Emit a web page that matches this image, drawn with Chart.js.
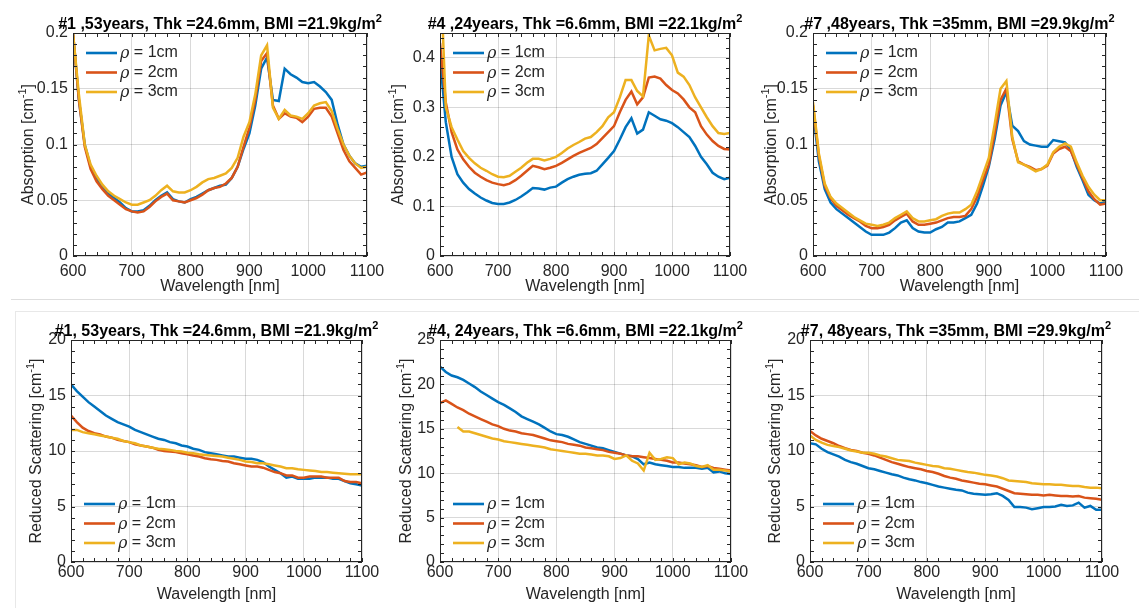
<!DOCTYPE html>
<html>
<head>
<meta charset="utf-8">
<script src="https://cdn.jsdelivr.net/npm/chart.js@4.4.0/dist/chart.umd.min.js"></script>
<style>
  body { margin: 0; background: #fff; width: 1139px; height: 608px; overflow: hidden; position: relative; }
  canvas { position: absolute; }
  .sep { position: absolute; background: #dedede; }
</style>
</head>
<body>
<div class="sep" style="left:11px; top:299px; width:1128px; height:1px"></div>
<div class="sep" style="left:15px; top:311px; width:1124px; height:1px; background:#e8e8e8"></div>
<div class="sep" style="left:15px; top:311px; width:1px; height:297px; background:#e8e8e8"></div>
<script>
const FONT = "'Liberation Sans', Arial, Helvetica, sans-serif";

const wavelengths = [600, 610, 620, 630, 640, 650, 660, 670, 680, 690,
  700, 710, 720, 730, 740, 750, 760, 770, 780, 790,
  800, 810, 820, 830, 840, 850, 860, 870, 880, 890,
  900, 910, 920, 930, 940, 950, 960, 970, 980, 990,
  1000, 1010, 1020, 1030, 1040, 1050, 1060, 1070, 1080, 1090,
  1100];

const xTicks = [600, 700, 800, 900, 1000, 1100];
const absTicks = [0, 0.05, 0.1, 0.15, 0.2];
const absTicksWide = [0, 0.1, 0.2, 0.3, 0.4];
const scatTicks = [0, 5, 10, 15, 20];
const scatTicksWide = [0, 5, 10, 15, 20, 25];

const rhoLabels = ["1cm", "2cm", "3cm"];
const lineColors = ["#0072BD", "#D95319", "#EDB120"];

// absorption, subject #1
const abs1_1cm = [0.2, 0.14, 0.1, 0.08, 0.07, 0.062, 0.056, 0.052, 0.048, 0.043,
  0.04, 0.04, 0.041, 0.045, 0.05, 0.054, 0.057, 0.051, 0.049, 0.048,
  0.051, 0.053, 0.056, 0.059, 0.061, 0.063, 0.064, 0.07, 0.08, 0.096,
  0.11, 0.135, 0.168, 0.178, 0.14, 0.139, 0.168, 0.163, 0.16, 0.156,
  0.155, 0.156, 0.152, 0.147, 0.14, 0.118, 0.1, 0.09, 0.083, 0.08,
  0.081];
const abs1_2cm = [0.2, 0.14, 0.098, 0.078, 0.067, 0.06, 0.054, 0.05, 0.046, 0.042,
  0.04, 0.039, 0.04, 0.044, 0.049, 0.053, 0.056, 0.05, 0.049, 0.048,
  0.05, 0.052, 0.055, 0.059, 0.061, 0.062, 0.065, 0.07, 0.08, 0.098,
  0.115, 0.14, 0.175, 0.182, 0.135, 0.123, 0.128, 0.125, 0.124, 0.12,
  0.125, 0.132, 0.133, 0.133, 0.125, 0.11, 0.095, 0.085, 0.079, 0.073,
  0.075];
const abs1_3cm = [0.2, 0.145, 0.1, 0.082, 0.072, 0.064, 0.058, 0.054, 0.051, 0.048,
  0.046, 0.046, 0.048, 0.05, 0.054, 0.059, 0.063, 0.058, 0.057, 0.057,
  0.059, 0.062, 0.066, 0.069, 0.07, 0.072, 0.074, 0.079, 0.088, 0.107,
  0.12, 0.145, 0.18, 0.189, 0.133, 0.123, 0.131, 0.126, 0.125, 0.123,
  0.128, 0.135, 0.137, 0.138, 0.13, 0.114, 0.1, 0.09, 0.083, 0.079,
  0.08];

// absorption, subject #4
const abs4_1cm = [0.4, 0.27, 0.2, 0.165, 0.148, 0.135, 0.126, 0.118, 0.112, 0.107,
  0.105, 0.105, 0.108, 0.113, 0.12, 0.128, 0.137, 0.136, 0.134, 0.138,
  0.14, 0.148, 0.155, 0.16, 0.164, 0.166, 0.167, 0.172, 0.185, 0.198,
  0.212, 0.235, 0.26, 0.278, 0.247, 0.255, 0.29, 0.283, 0.276, 0.273,
  0.268, 0.26, 0.25, 0.24, 0.222, 0.2, 0.185, 0.168, 0.16, 0.155,
  0.158];
const abs4_2cm = [0.43, 0.31, 0.25, 0.215, 0.195, 0.18, 0.168, 0.16, 0.153, 0.148,
  0.145, 0.143, 0.146, 0.153, 0.162, 0.172, 0.182, 0.179, 0.175, 0.178,
  0.182, 0.188, 0.195, 0.202, 0.208, 0.213, 0.218, 0.226, 0.238, 0.25,
  0.262, 0.29, 0.315, 0.332, 0.306, 0.32, 0.36, 0.362, 0.358, 0.345,
  0.335, 0.328, 0.316, 0.3, 0.29, 0.262, 0.245, 0.232, 0.222, 0.216,
  0.215];
const abs4_3cm = [0.6, 0.3, 0.26, 0.235, 0.212, 0.198, 0.187, 0.178, 0.172, 0.165,
  0.16, 0.159, 0.162, 0.17, 0.178, 0.188, 0.196, 0.196, 0.193, 0.196,
  0.2, 0.208, 0.217, 0.224, 0.23, 0.237, 0.24, 0.25, 0.262, 0.28,
  0.29, 0.32, 0.355, 0.355, 0.333, 0.322, 0.445, 0.415, 0.418, 0.42,
  0.405, 0.37, 0.362, 0.345, 0.32, 0.3, 0.28, 0.262, 0.248, 0.246,
  0.248];

// absorption, subject #7
const abs7_1cm = [0.13, 0.085, 0.06, 0.048, 0.042, 0.038, 0.034, 0.03, 0.026, 0.022,
  0.019, 0.019, 0.019, 0.021, 0.025, 0.03, 0.032, 0.025, 0.022, 0.021,
  0.021, 0.024, 0.026, 0.03, 0.03, 0.031, 0.034, 0.037, 0.047, 0.063,
  0.08, 0.105, 0.135, 0.147, 0.117, 0.112, 0.103, 0.1, 0.099, 0.098,
  0.098, 0.104, 0.103, 0.102, 0.095, 0.08, 0.068, 0.055, 0.05, 0.047,
  0.049];
const abs7_2cm = [0.135, 0.09, 0.063, 0.052, 0.045, 0.041, 0.037, 0.034, 0.031, 0.027,
  0.025, 0.025, 0.026, 0.028, 0.032, 0.035, 0.038, 0.031, 0.028, 0.028,
  0.029, 0.03, 0.032, 0.034, 0.035, 0.035, 0.036, 0.042, 0.053, 0.068,
  0.082, 0.11, 0.14, 0.15, 0.105, 0.085, 0.082, 0.08, 0.077, 0.078,
  0.081, 0.092, 0.096, 0.098, 0.094, 0.082, 0.07, 0.058, 0.051, 0.046,
  0.047];
const abs7_3cm = [0.138, 0.092, 0.065, 0.053, 0.047, 0.043, 0.039, 0.035, 0.032, 0.029,
  0.028, 0.027, 0.028, 0.03, 0.034, 0.037, 0.04, 0.034, 0.031, 0.031,
  0.032, 0.033, 0.036, 0.038, 0.039, 0.039, 0.042, 0.046, 0.058, 0.073,
  0.088, 0.118, 0.15, 0.157, 0.107, 0.084, 0.082, 0.079, 0.076, 0.078,
  0.082, 0.093, 0.098, 0.101, 0.098, 0.084, 0.072, 0.062, 0.055, 0.05,
  0.05];

// reduced scattering, subject #1
const scat1_1cm = [16.0, 15.4, 14.9, 14.4, 14.0, 13.6, 13.2, 12.9, 12.6, 12.4,
  12.2, 11.9, 11.7, 11.5, 11.3, 11.1, 11.0, 10.8, 10.7, 10.5,
  10.4, 10.2, 10.1, 9.9, 9.8, 9.7, 9.6, 9.5, 9.5, 9.4,
  9.3, 9.3, 9.2, 9.0, 8.6, 8.3, 8.0, 7.6, 7.7, 7.5,
  7.5, 7.5, 7.6, 7.6, 7.6, 7.5, 7.5, 7.3, 7.1, 7.0,
  6.9];
const scat1_2cm = [13.2, 12.6, 12.1, 11.8, 11.6, 11.5, 11.3, 11.2, 11.0, 10.9,
  10.8, 10.6, 10.5, 10.4, 10.3, 10.1, 10.0, 9.95, 9.9, 9.8,
  9.7, 9.6, 9.5, 9.35, 9.25, 9.2, 9.1, 9.05, 8.9, 8.8,
  8.7, 8.6, 8.6, 8.5, 8.3, 8.1, 8.0, 7.8, 7.8, 7.6,
  7.6, 7.7, 7.7, 7.7, 7.6, 7.6, 7.6, 7.3, 7.2, 7.2,
  7.1];
const scat1_3cm = [11.9, 11.9, 11.7, 11.6, 11.5, 11.4, 11.3, 11.2, 11.1, 10.9,
  10.8, 10.7, 10.5, 10.4, 10.3, 10.2, 10.15, 10.1, 10.0, 9.95,
  9.85, 9.8, 9.7, 9.65, 9.6, 9.55, 9.5, 9.4, 9.3, 9.2,
  9.05, 9.0, 8.9, 8.9, 8.8, 8.7, 8.6, 8.45, 8.45, 8.35,
  8.3, 8.25, 8.2, 8.1, 8.1, 8.05, 8.0, 7.95, 7.9, 7.9,
  7.9];

// reduced scattering, subject #4
const scat4_1cm = [22.0, 21.4, 21.0, 20.8, 20.5, 20.1, 19.7, 19.2, 18.8, 18.4,
  18.0, 17.7, 17.3, 16.9, 16.4, 16.1, 15.8, 15.5, 15.1, 14.7,
  14.4, 14.3, 14.1, 13.8, 13.5, 13.3, 13.1, 12.9, 12.8, 12.6,
  12.4, 12.2, 12.0, 11.9, 11.6, 11.0, 11.2, 11.0, 10.9, 10.8,
  10.7, 10.7, 10.6, 10.6, 10.6, 10.5, 10.6, 10.1, 10.2, 10.0,
  9.9];
const scat4_2cm = [17.9, 18.2, 17.8, 17.4, 17.1, 16.7, 16.4, 16.1, 15.8, 15.5,
  15.3, 15.0, 14.8, 14.7, 14.5, 14.4, 14.3, 14.1, 13.9, 13.7,
  13.6, 13.5, 13.3, 13.2, 13.1, 12.9, 12.8, 12.7, 12.6, 12.4,
  12.3, 12.2, 12.0, 11.9, 11.9, 11.8, 11.7, 11.6, 11.5, 11.4,
  11.2, 11.2, 11.1, 11.0, 10.9, 10.7, 10.8, 10.6, 10.5, 10.4,
  10.3];
const scat4_3cm = [null, null, null, 15.2, 14.7, 14.7, 14.5, 14.3, 14.1, 13.9,
  13.8, 13.6, 13.5, 13.4, 13.3, 13.2, 13.1, 13.0, 12.9, 12.7,
  12.6, 12.5, 12.4, 12.3, 12.2, 12.2, 12.1, 12.0, 12.0, 11.9,
  11.6, 11.7, 12.0, 11.4, 11.1, 10.3, 12.3, 11.5, 11.6, 11.8,
  11.7, 11.0, 11.2, 11.1, 10.8, 10.7, 10.9, 10.4, 10.4, 10.3,
  10.2];

// reduced scattering, subject #7
const scat7_1cm = [10.7, 10.6, 10.2, 9.9, 9.7, 9.5, 9.2, 9.0, 8.85, 8.65,
  8.45, 8.35, 8.2, 8.05, 7.9, 7.8, 7.6, 7.45, 7.35, 7.2,
  7.1, 6.95, 6.8, 6.7, 6.6, 6.5, 6.45, 6.25, 6.15, 6.1,
  6.05, 6.1, 6.2, 5.95, 5.6, 4.95, 4.95, 4.9, 4.75, 4.85,
  4.95, 4.95, 5.0, 5.15, 5.05, 5.1, 5.35, 4.9, 5.05, 4.7,
  4.7];
const scat7_2cm = [11.8, 11.4, 11.1, 10.9, 10.7, 10.45, 10.25, 10.1, 10.0, 9.85,
  9.75, 9.6, 9.4, 9.2, 9.0, 8.85, 8.7, 8.55, 8.45, 8.35,
  8.2, 8.1, 7.95, 7.75, 7.6, 7.5, 7.35, 7.25, 7.15, 7.05,
  7.0, 6.9, 6.8, 6.6, 6.4, 6.2, 6.15, 6.1, 6.05, 6.05,
  6.0, 6.05, 6.0, 5.95, 5.95, 5.9, 5.95, 5.8, 5.75, 5.7,
  5.6];
const scat7_3cm = [11.4, 11.0, 10.75, 10.55, 10.45, 10.35, 10.2, 10.05, 9.95, 9.85,
  9.85, 9.75, 9.6, 9.5, 9.35, 9.2, 9.15, 9.1, 8.95, 8.85,
  8.75, 8.65, 8.6, 8.45, 8.4, 8.3, 8.2, 8.1, 8.05, 7.95,
  7.85, 7.8, 7.7, 7.55, 7.35, 7.3, 7.25, 7.2, 7.1, 7.05,
  7.0, 7.0, 6.95, 6.95, 6.9, 6.85, 6.85, 6.75, 6.7, 6.7,
  6.65];

const absTitle = "Absorption [cm";
const scatTitle = "Reduced Scattering [cm";

const panels = [
  { box: [73, 33, 367, 256], title: "#1 ,53years, Thk =24.6mm, BMI =21.9kg/m", yName: absTitle, yMax: 0.2, yTicks: absTicks, yMinor: 0.01, series: [abs1_1cm, abs1_2cm, abs1_3cm], legendTop: true, yTitleOff: 46, xPad: 6, xTitleOff: 31 },
  { box: [440, 33, 730, 256], title: "#4 ,24years, Thk =6.6mm, BMI =22.1kg/m", yName: absTitle, yMax: 0.45, yTicks: absTicksWide, yMinor: 0.02, series: [abs4_1cm, abs4_2cm, abs4_3cm], legendTop: true, yTitleOff: 43, xPad: 6, xTitleOff: 31 },
  { box: [813, 33, 1106, 256], title: "#7 ,48years, Thk =35mm, BMI =29.9kg/m", yName: absTitle, yMax: 0.2, yTicks: absTicks, yMinor: 0.01, series: [abs7_1cm, abs7_2cm, abs7_3cm], legendTop: true, yTitleOff: 43, xPad: 6, xTitleOff: 31 },
  { box: [71, 340, 362, 562], title: "#1, 53years, Thk =24.6mm, BMI =21.9kg/m", yName: scatTitle, yMax: 20, yTicks: scatTicks, yMinor: 1, series: [scat1_1cm, scat1_2cm, scat1_3cm], legendTop: false, yTitleOff: 36, xPad: 1, xTitleOff: 33 },
  { box: [440, 340, 731, 562], title: "#4, 24years, Thk =6.6mm, BMI =22.1kg/m", yName: scatTitle, yMax: 25, yTicks: scatTicksWide, yMinor: 1, series: [scat4_1cm, scat4_2cm, scat4_3cm], legendTop: false, yTitleOff: 35, xPad: 1, xTitleOff: 33 },
  { box: [810, 340, 1102, 562], title: "#7, 48years, Thk =35mm, BMI =29.9kg/m", yName: scatTitle, yMax: 20, yTicks: scatTicks, yMinor: 1, series: [scat7_1cm, scat7_2cm, scat7_3cm], legendTop: false, yTitleOff: 36, xPad: 1, xTitleOff: 33 },
];

// text with superscript parts, centered on cx
function drawRich(ctx, parts, cx, baseline, weight) {
  const fontFor = (sup) => weight + " " + (sup ? 11 : 16) + "px " + FONT;
  let total = 0;
  parts.forEach(([t, sup]) => { ctx.font = fontFor(sup); total += ctx.measureText(t).width; });
  let x = cx - total / 2;
  ctx.textAlign = "left";
  ctx.textBaseline = "alphabetic";
  parts.forEach(([t, sup]) => {
    ctx.font = fontFor(sup);
    ctx.fillText(t, x, sup ? baseline - 7 : baseline);
    x += ctx.measureText(t).width;
  });
}

function makeDecor(p) {
  return {
    id: "decor",
    afterDraw(chart) {
      const ctx = chart.ctx;
      const a = chart.chartArea;
      const xs = chart.scales.x, ys = chart.scales.y;
      ctx.save();

      // inward ticks on all four sides
      ctx.strokeStyle = "#262626";
      ctx.lineWidth = 1;
      ctx.beginPath();
      for (let k = 0; 600 + k * 20 <= 1100; k++) {
        const px = Math.round(xs.getPixelForValue(600 + k * 20)) + 0.5;
        ctx.moveTo(px, a.bottom); ctx.lineTo(px, a.bottom - 4);
        ctx.moveTo(px, a.top); ctx.lineTo(px, a.top + 4);
      }
      for (let k = 0; k * p.yMinor <= p.yMax + 1e-9; k++) {
        const py = Math.round(ys.getPixelForValue(k * p.yMinor)) + 0.5;
        ctx.moveTo(a.left, py); ctx.lineTo(a.left + 4, py);
        ctx.moveTo(a.right, py); ctx.lineTo(a.right - 4, py);
      }
      ctx.stroke();
      ctx.strokeRect(a.left + 0.5, a.top + 0.5, a.right - a.left - 1, a.bottom - a.top - 1);

      // title
      ctx.fillStyle = "#000";
      drawRich(ctx, [[p.title, false], ["2", true]], (a.left + a.right) / 2, a.top - 4, "bold");

      // x axis title
      ctx.fillStyle = "#262626";
      ctx.font = "16px " + FONT;
      ctx.textAlign = "center";
      ctx.textBaseline = "middle";
      ctx.fillText("Wavelength [nm]", (a.left + a.right) / 2, a.bottom + p.xTitleOff);

      // y axis title
      ctx.save();
      ctx.translate(a.left - p.yTitleOff, (a.top + a.bottom) / 2);
      ctx.rotate(-Math.PI / 2);
      drawRich(ctx, [[p.yName, false], ["-1", true], ["]", false]], 0, 6, "normal");
      ctx.restore();

      // legend
      const lx = a.left + 13;
      chart.data.datasets.forEach((ds, i) => {
        const ly = p.legendTop ? a.top + 20 + i * 19.5 : a.bottom - 58 + i * 19.5;
        ctx.strokeStyle = ds.borderColor;
        ctx.lineWidth = 2.6;
        ctx.beginPath();
        ctx.moveTo(lx, ly);
        ctx.lineTo(lx + 31, ly);
        ctx.stroke();
        ctx.fillStyle = "#262626";
        ctx.textAlign = "left";
        ctx.textBaseline = "middle";
        ctx.font = "italic 16px 'DejaVu Serif', serif";
        ctx.fillText("\u03c1", lx + 34, ly + 1);
        const w = ctx.measureText("\u03c1").width;
        ctx.font = "16px " + FONT;
        ctx.fillText(" = " + ds.label, lx + 34 + w, ly);
      });

      ctx.restore();
    },
  };
}

const padL = 72, padT = 33, padR = 30, padB = 45;

panels.forEach((p) => {
  const [l, t, r, b] = p.box;
  const cv = document.createElement("canvas");
  cv.width = r - l + padL + padR;
  cv.height = b - t + padT + padB;
  cv.style.width = cv.width + "px";
  cv.style.height = cv.height + "px";
  cv.style.left = l - padL + "px";
  cv.style.top = t - padT + "px";
  document.body.appendChild(cv);

  new Chart(cv, {
    type: "line",
    data: {
      datasets: p.series.map((vals, i) => ({
        label: rhoLabels[i],
        data: vals.map((v, k) => ({ x: wavelengths[k], y: v })),
        borderColor: lineColors[i],
        borderWidth: 2.5,
        pointRadius: 0,
        tension: 0,
        order: 2 - i,
        clip: 0,
      })),
    },
    options: {
      responsive: false,
      animation: false,
      devicePixelRatio: 1,
      events: [],
      layout: { padding: { left: 0, top: padT, right: padR, bottom: 0 }, autoPadding: false },
      plugins: { legend: { display: false }, tooltip: { enabled: false } },
      scales: {
        x: {
          type: "linear",
          min: 600,
          max: 1100,
          afterBuildTicks: (s) => { s.ticks = xTicks.map((v) => ({ value: v })); },
          afterFit: (s) => { s.height = padB; },
          grid: { color: "rgba(0,0,0,0.15)", drawTicks: false },
          border: { display: false },
          ticks: { padding: p.xPad, color: "#262626", font: { size: 16, family: FONT }, maxRotation: 0, autoSkip: false, callback: (v) => String(v) },
        },
        y: {
          type: "linear",
          min: 0,
          max: p.yMax,
          afterBuildTicks: (s) => { s.ticks = p.yTicks.map((v) => ({ value: v })); },
          afterFit: (s) => { s.width = padL; },
          grid: { color: "rgba(0,0,0,0.15)", drawTicks: false },
          border: { display: false },
          ticks: { padding: 5, color: "#262626", font: { size: 16, family: FONT }, autoSkip: false, callback: (v) => String(+v.toFixed(3)) },
        },
      },
    },
    plugins: [makeDecor(p)],
  });
});
</script>
</body>
</html>
